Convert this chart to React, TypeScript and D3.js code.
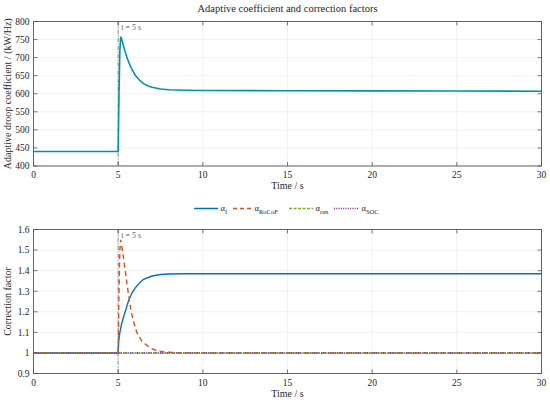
import * as d3 from 'd3';

// time samples (s) and adaptive droop coefficient (kW/Hz)
const droopTime = [0, 5, 5.05, 5.1, 5.15, 5.2, 5.3, 5.4, 5.5, 5.65, 5.8, 6, 6.25, 6.5, 6.75, 7, 7.5, 8, 9, 10, 15, 20, 25, 30];
const droopValue = [440, 440, 600, 720, 758, 752, 735, 718, 703, 684, 669, 652, 638, 628, 622, 618, 613, 611, 609.5, 609, 608.5, 608, 607.5, 607];

// correction factors
const alphaFTime = [0, 5, 5.02, 5.05, 5.1, 5.2, 5.3, 5.45, 5.6, 5.8, 6, 6.25, 6.5, 7, 7.5, 8, 9, 10, 20, 30];
const alphaFValue = [1, 1, 1.04, 1.07, 1.1, 1.14, 1.17, 1.21, 1.25, 1.29, 1.315, 1.34, 1.358, 1.374, 1.381, 1.384, 1.385, 1.385, 1.385, 1.385];

const rocofTime = [0, 5, 5.05, 5.1, 5.15, 5.25, 5.4, 5.6, 5.75, 5.9, 6.1, 6.4, 6.9, 7.3, 7.7, 8.5, 10, 30];
const rocofValue = [1, 1, 1.3, 1.5, 1.55, 1.5, 1.41, 1.29, 1.21, 1.155, 1.1, 1.056, 1.024, 1.01, 1.005, 1.001, 1, 1];

const renTime = [0, 30];
const renValue = [1, 1];
const socTime = [0, 30];
const socValue = [1, 1];

const xTicks = [0, 5, 10, 15, 20, 25, 30];
const droopTicks = [400, 450, 500, 550, 600, 650, 700, 750, 800];
const factorTicks = [0.9, 1, 1.1, 1.2, 1.3, 1.4, 1.5, 1.6];

const eventTime = 5;

const W = 550;
const H = 402;
const left = 33.5;
const right = 541.5;
const font = "'Liberation Serif', 'Times New Roman', serif";
const axisColor = '#555';
const textColor = '#262626';

type Series = { t: number[]; v: number[]; color: string; dash?: string; width: number };

function Panel({ top, bottom, yDomain, yTicks, yLabel, series, tickFormat }: {
  top: number; bottom: number; yDomain: [number, number]; yTicks: number[]; yLabel: string; series: Series[];
  tickFormat: (v: number) => string;
}) {
  const x = d3.scaleLinear().domain([0, 30]).range([left, right]);
  const y = d3.scaleLinear().domain(yDomain).range([bottom, top]);
  const line = d3.line<[number, number]>().x(d => x(d[0])).y(d => y(d[1]));
  const clipId = `clip-${top}`;
  return (
    <g>
      <defs>
        <clipPath id={clipId}>
          <rect x={left} y={top} width={right - left} height={bottom - top} />
        </clipPath>
      </defs>
      {xTicks.map(t => (
        <line key={`gx${t}`} x1={x(t)} x2={x(t)} y1={top} y2={bottom} stroke="#ebebeb" strokeWidth={0.7} />
      ))}
      {yTicks.map(t => (
        <line key={`gy${t}`} x1={left} x2={right} y1={y(t)} y2={y(t)} stroke="#ebebeb" strokeWidth={0.7} />
      ))}
      <line x1={x(eventTime)} x2={x(eventTime)} y1={top} y2={bottom} stroke="#999" strokeWidth={1.2} strokeDasharray="4 1.5 1.2 1.5" />
      <text x={x(eventTime) + 3} y={top + 8} fontSize={8} fill="#666">t = 5 s</text>
      <g clipPath={`url(#${clipId})`}>
        {series.map((s, i) => (
          <path key={i} d={line(s.t.map((t, j) => [t, s.v[j]] as [number, number])) ?? ''} fill="none"
            stroke={s.color} strokeWidth={s.width} strokeDasharray={s.dash} />
        ))}
      </g>
      <rect x={left} y={top} width={right - left} height={bottom - top} fill="none" stroke={axisColor} strokeWidth={0.9} />
      {xTicks.map(t => (
        <g key={`tx${t}`}>
          <line x1={x(t)} x2={x(t)} y1={bottom} y2={bottom - 4} stroke={axisColor} strokeWidth={0.8} />
          <line x1={x(t)} x2={x(t)} y1={top} y2={top + 4} stroke={axisColor} strokeWidth={0.8} />
          <text x={x(t)} y={bottom + 12} textAnchor="middle" fontSize={9.5} fill={textColor}>{t}</text>
        </g>
      ))}
      {yTicks.map(t => (
        <g key={`ty${t}`}>
          <line x1={left} x2={left + 4} y1={y(t)} y2={y(t)} stroke={axisColor} strokeWidth={0.8} />
          <line x1={right} x2={right - 4} y1={y(t)} y2={y(t)} stroke={axisColor} strokeWidth={0.8} />
          <text x={left - 4} y={y(t) + 3.3} textAnchor="end" fontSize={9.5} fill={textColor}>{tickFormat(t)}</text>
        </g>
      ))}
      <text x={(left + right) / 2} y={bottom + 23} textAnchor="middle" fontSize={10} fill={textColor}>Time / s</text>
      <text transform={`translate(11,${(top + bottom) / 2}) rotate(-90)`} textAnchor="middle" fontSize={10} fill={textColor}>{yLabel}</text>
    </g>
  );
}

function Legend() {
  const items = [
    { x0: 194, x1: 218, color: '#0072BD', dash: undefined, main: 'α', sub: 'f' },
    { x0: 233, x1: 252, color: '#D95319', dash: '4 3', main: 'α', sub: 'RoCoF' },
    { x0: 289, x1: 313, color: '#77AC30', dash: '3 1.5', main: 'α', sub: 'ren' },
    { x0: 334, x1: 359, color: '#7E2F8E', dash: '1 1.3', main: 'α', sub: 'SOC' },
  ];
  const y = 208.5;
  return (
    <g fill={textColor}>
      {items.map(it => (
        <g key={it.sub}>
          <line x1={it.x0} x2={it.x1} y1={y} y2={y} stroke={it.color} strokeWidth={1.5} strokeDasharray={it.dash} />
          <text x={it.x1 + 2.5} y={y + 2.5} fontSize={8.5}>
            {it.main}
            <tspan fontSize={6.5} dy={2.5}>{it.sub}</tspan>
          </text>
        </g>
      ))}
    </g>
  );
}

export default function App() {
  return (
    <svg width={W} height={H} viewBox={`0 0 ${W} ${H}`}
      style={{ display: 'block', position: 'absolute', left: 0, top: 0, background: '#fff', fontFamily: font }}>
      <rect width={W} height={H} fill="#fff" />
      <text x={(left + right) / 2} y={12} textAnchor="middle" fontSize={10.5} fill={textColor}>
        Adaptive coefficient and correction factors
      </text>
      <Panel
        top={21.5}
        bottom={166}
        yDomain={[400, 800]}
        yTicks={droopTicks}
        yLabel="Adaptive droop coefficient / (kW/Hz)"
        tickFormat={v => String(v)}
        series={[{ t: droopTime, v: droopValue, color: '#00959C', width: 1.6 }]}
      />
      <Legend />
      <Panel
        top={229.5}
        bottom={373.5}
        yDomain={[0.9, 1.6]}
        yTicks={factorTicks}
        yLabel="Correction factor"
        tickFormat={v => d3.format('~g')(v)}
        series={[
          { t: alphaFTime, v: alphaFValue, color: '#0072BD', width: 1.4 },
          { t: rocofTime, v: rocofValue, color: '#D95319', dash: '5 3.5', width: 1.4 },
          { t: renTime, v: renValue, color: '#77AC30', dash: '4 2', width: 1.4 },
          { t: socTime, v: socValue, color: '#7E2F8E', dash: '1 1.3', width: 1.4 },
        ]}
      />
    </svg>
  );
}
